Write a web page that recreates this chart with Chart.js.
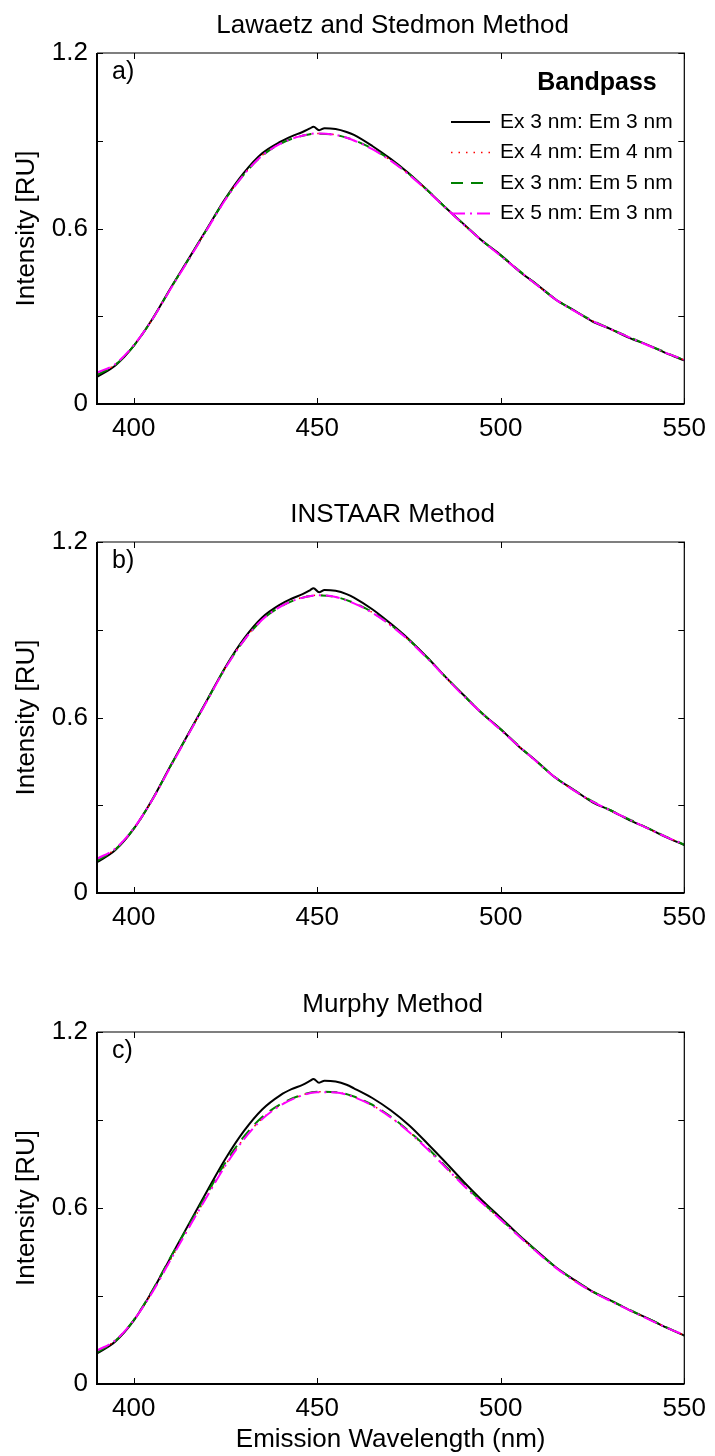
<!DOCTYPE html>
<html>
<head>
<meta charset="utf-8">
<script src="https://cdn.jsdelivr.net/npm/chart.js@4.4.0/dist/chart.umd.min.js"></script>
<style>
  body { margin: 0; background: #fff; width: 715px; height: 1456px; overflow: hidden; position: relative; }
  canvas { position: absolute; left: 0; }
</style>
</head>
<body>
<canvas id="panelA" width="715" height="470" style="top:0px"></canvas>
<canvas id="panelB" width="715" height="470" style="top:490px"></canvas>
<canvas id="panelC" width="715" height="476" style="top:980px"></canvas>
<script>
// wavelengths (nm)
const wl = [390, 395, 400, 405, 410, 415, 420, 425, 430, 435, 440, 445, 450, 455, 460, 465, 470,
  475, 480, 485, 490, 495, 500, 505, 510, 515, 520, 525, 530, 535, 540, 545, 550];
const wlFine = [390, 395, 400, 405, 410, 415, 420, 425, 430, 435, 440, 443, 446, 448, 449, 450.5, 452,
  455, 458, 460, 465, 470, 475, 480, 485, 490, 495, 500, 505, 510, 515, 520, 525, 530, 535, 540, 545, 550];

const xTicks = [400, 450, 500, 550];
const yTicks = [0, 0.3, 0.6, 0.9, 1.2];
const yTickLabels = [0, 0.6, 1.2];

const seriesNames = ['Ex 3 nm: Em 3 nm', 'Ex 4 nm: Em 4 nm', 'Ex 3 nm: Em 5 nm', 'Ex 5 nm: Em 3 nm'];
const panelTitles = ['Lawaetz and Stedmon Method', 'INSTAAR Method', 'Murphy Method'];
const panelLetters = ['a)', 'b)', 'c)'];

// a) Lawaetz and Stedmon
const a_ex3em3 = [0.093, 0.132, 0.199, 0.289, 0.395, 0.497, 0.600, 0.703, 0.790, 0.857, 0.897, 0.915, 0.930, 0.942, 0.948, 0.936, 0.943,
  0.940, 0.930, 0.920, 0.882, 0.838, 0.788, 0.731, 0.671, 0.614, 0.557, 0.509, 0.454, 0.407, 0.357, 0.320, 0.282, 0.256, 0.226, 0.202, 0.174, 0.149];
const a_ex4em4 = [0.103, 0.135, 0.200, 0.288, 0.393, 0.495, 0.598, 0.700, 0.785, 0.850, 0.891, 0.915, 0.925, 0.920, 0.901, 0.872, 0.833,
  0.785, 0.730, 0.670, 0.612, 0.558, 0.507, 0.455, 0.405, 0.358, 0.318, 0.284, 0.255, 0.228, 0.201, 0.175, 0.150];
const a_ex3em5 = [0.099, 0.134, 0.199, 0.288, 0.394, 0.496, 0.599, 0.701, 0.784, 0.849, 0.890, 0.914, 0.924, 0.920, 0.902, 0.873, 0.834,
  0.786, 0.731, 0.671, 0.613, 0.558, 0.508, 0.456, 0.406, 0.358, 0.319, 0.285, 0.256, 0.229, 0.202, 0.176, 0.150];
const a_ex5em3 = [0.107, 0.137, 0.201, 0.288, 0.392, 0.494, 0.597, 0.699, 0.784, 0.849, 0.890, 0.914, 0.925, 0.920, 0.901, 0.871, 0.832,
  0.784, 0.729, 0.670, 0.612, 0.557, 0.506, 0.455, 0.405, 0.357, 0.318, 0.284, 0.255, 0.228, 0.201, 0.175, 0.151];

// b) INSTAAR
const b_ex3em3 = [0.105, 0.147, 0.219, 0.318, 0.434, 0.547, 0.660, 0.773, 0.869, 0.942, 0.987, 1.006, 1.022, 1.035, 1.042, 1.028, 1.036,
  1.033, 1.022, 1.010, 0.970, 0.921, 0.867, 0.805, 0.738, 0.675, 0.613, 0.560, 0.500, 0.448, 0.393, 0.352, 0.310, 0.282, 0.249, 0.222, 0.191, 0.164];
const b_ex4em4 = [0.114, 0.150, 0.220, 0.317, 0.432, 0.545, 0.658, 0.770, 0.864, 0.935, 0.980, 1.007, 1.018, 1.012, 0.991, 0.959, 0.916,
  0.864, 0.803, 0.737, 0.673, 0.614, 0.558, 0.501, 0.446, 0.394, 0.350, 0.312, 0.281, 0.251, 0.221, 0.193, 0.165];
const b_ex3em5 = [0.110, 0.149, 0.220, 0.318, 0.433, 0.546, 0.659, 0.771, 0.863, 0.934, 0.979, 1.006, 1.017, 1.012, 0.992, 0.960, 0.917,
  0.865, 0.804, 0.738, 0.674, 0.614, 0.559, 0.502, 0.447, 0.394, 0.351, 0.313, 0.282, 0.252, 0.222, 0.193, 0.165];
const b_ex5em3 = [0.117, 0.152, 0.221, 0.317, 0.431, 0.544, 0.657, 0.769, 0.863, 0.934, 0.979, 1.006, 1.018, 1.012, 0.990, 0.958, 0.915,
  0.863, 0.802, 0.737, 0.672, 0.613, 0.557, 0.501, 0.446, 0.393, 0.350, 0.312, 0.281, 0.251, 0.221, 0.192, 0.166];

// c) Murphy
const c_ex3em3 = [0.104, 0.145, 0.216, 0.315, 0.430, 0.545, 0.658, 0.768, 0.862, 0.936, 0.985, 1.005, 1.020, 1.033, 1.040, 1.027, 1.034,
  1.031, 1.020, 1.008, 0.975, 0.933, 0.882, 0.820, 0.755, 0.688, 0.625, 0.567, 0.507, 0.452, 0.398, 0.355, 0.315, 0.284, 0.252, 0.224, 0.193, 0.165];
const c_ex4em4 = [0.112, 0.148, 0.217, 0.312, 0.423, 0.533, 0.641, 0.747, 0.836, 0.905, 0.951, 0.981, 0.996, 0.995, 0.979, 0.950, 0.910,
  0.860, 0.802, 0.739, 0.676, 0.617, 0.561, 0.504, 0.449, 0.397, 0.353, 0.315, 0.283, 0.253, 0.223, 0.194, 0.166];
const c_ex3em5 = [0.108, 0.147, 0.218, 0.317, 0.431, 0.541, 0.649, 0.755, 0.843, 0.910, 0.954, 0.982, 0.996, 0.995, 0.980, 0.952, 0.912,
  0.862, 0.805, 0.742, 0.679, 0.619, 0.562, 0.505, 0.450, 0.398, 0.354, 0.316, 0.284, 0.254, 0.224, 0.194, 0.166];
const c_ex5em3 = [0.114, 0.149, 0.217, 0.311, 0.422, 0.532, 0.640, 0.745, 0.834, 0.903, 0.950, 0.980, 0.995, 0.994, 0.978, 0.949, 0.909,
  0.859, 0.801, 0.738, 0.675, 0.616, 0.560, 0.503, 0.448, 0.396, 0.352, 0.314, 0.282, 0.252, 0.222, 0.193, 0.167];

const FONT = '"Liberation Sans", Arial, Helvetica, sans-serif';

// line styles for the 4 bandpass settings
const styles = [
  { color: '#000000', dash: [], width: 2 },
  { color: '#ff0000', dash: [1.5, 6], width: 1.5 },
  { color: '#008000', dash: [12, 8], width: 2 },
  { color: '#ff00ff', dash: [14, 5, 2, 5], width: 2 }
];

function pts(xs, ys) {
  return xs.map((x, i) => ({ x: x, y: ys[i] }));
}

const framePlugin = {
  id: 'frame',
  afterDatasetsDraw(chart, args, opts) {
    const ctx = chart.ctx;
    const a = chart.chartArea;
    const xs = chart.scales.x, ys = chart.scales.y;
    ctx.save();
    ctx.strokeStyle = '#000';
    // box
    ctx.lineWidth = 1.2;
    ctx.beginPath();
    ctx.moveTo(a.left, a.top); ctx.lineTo(a.right, a.top); ctx.lineTo(a.right, a.bottom);
    ctx.stroke();
    ctx.lineWidth = 2;
    ctx.beginPath();
    ctx.moveTo(a.left, a.top); ctx.lineTo(a.left, a.bottom); ctx.lineTo(a.right, a.bottom);
    ctx.stroke();
    // inward ticks
    ctx.lineWidth = 1;
    ctx.beginPath();
    xTicks.forEach(v => {
      const p = Math.round(xs.getPixelForValue(v)) + 0.5;
      ctx.moveTo(p, a.bottom); ctx.lineTo(p, a.bottom - 6);
      ctx.moveTo(p, a.top); ctx.lineTo(p, a.top + 6);
    });
    yTicks.forEach(v => {
      const p = Math.round(ys.getPixelForValue(v)) + 0.5;
      ctx.moveTo(a.left, p); ctx.lineTo(a.left + 6, p);
      ctx.moveTo(a.right, p); ctx.lineTo(a.right - 6, p);
    });
    ctx.stroke();

    ctx.fillStyle = '#000';
    ctx.textAlign = 'center';
    ctx.textBaseline = 'middle';
    ctx.font = '26px ' + FONT;
    ctx.fillText(opts.title, (a.left + a.right) / 2 + 2, a.top - 27);
    ctx.textAlign = 'left';
    ctx.font = '25px ' + FONT;
    ctx.fillText(opts.letter, a.left + 15, a.top + 19);
    // y label
    ctx.font = '26px ' + FONT;
    ctx.save();
    ctx.translate(27, (a.top + a.bottom) / 2);
    ctx.rotate(-Math.PI / 2);
    ctx.textAlign = 'center';
    ctx.fillText('Intensity [RU]', 0, 0);
    ctx.restore();
    if (opts.xlabel) {
      ctx.textAlign = 'center';
      ctx.fillText('Emission Wavelength (nm)', (a.left + a.right) / 2, a.bottom + 56);
    }
    if (opts.legend) {
      ctx.font = 'bold 25px ' + FONT;
      ctx.textAlign = 'center';
      ctx.fillText('Bandpass', 597, 83);
      ctx.font = '21px ' + FONT;
      ctx.textAlign = 'left';
      seriesNames.forEach((name, i) => {
        const y = 122 + i * 30.5;
        const s = styles[i];
        ctx.strokeStyle = s.color;
        ctx.lineWidth = s.width;
        ctx.setLineDash(s.dash);
        ctx.beginPath();
        ctx.moveTo(451, y); ctx.lineTo(490, y);
        ctx.stroke();
        ctx.setLineDash([]);
        ctx.fillText(name, 500, y);
      });
    }
    ctx.restore();
  }
};

function makePanel(id, idx, xsList, ysList, pad, extra) {
  const datasets = ysList.map((ys, i) => ({
    label: seriesNames[i],
    data: pts(xsList[i], ys),
    borderColor: styles[i].color,
    borderWidth: styles[i].width,
    borderDash: styles[i].dash,
    pointRadius: 0,
    fill: false,
    cubicInterpolationMode: 'monotone',
    order: 4 - i
  }));
  return new Chart(document.getElementById(id), {
    type: 'line',
    data: { datasets: datasets },
    options: {
      responsive: false,
      animation: false,
      layout: { padding: pad },
      plugins: {
        legend: { display: false },
        tooltip: { enabled: false },
        frame: Object.assign({ title: panelTitles[idx], letter: panelLetters[idx] }, extra)
      },
      scales: {
        x: {
          type: 'linear', min: 390, max: 550,
          grid: { display: false, drawTicks: false },
          border: { display: false },
          afterBuildTicks: s => { s.ticks = xTicks.map(v => ({ value: v })); },
          afterFit: s => { s.height = 40; },
          ticks: { font: { family: FONT, size: 26 }, color: '#000', padding: 9, maxRotation: 0 }
        },
        y: {
          type: 'linear', min: 0, max: 1.2,
          grid: { display: false, drawTicks: false },
          border: { display: false },
          afterBuildTicks: s => { s.ticks = yTicks.map(v => ({ value: v })); },
          afterFit: s => { s.width = 97; },
          ticks: {
            font: { family: FONT, size: 26 }, color: '#000', padding: 9,
            callback: v => yTickLabels.some(t => Math.abs(t - v) < 1e-6) ? String(Math.round(v * 10) / 10) : ''
          }
        }
      }
    },
    plugins: [framePlugin]
  });
}

const lists = [wlFine, wl, wl, wl];
makePanel('panelA', 0, lists, [a_ex3em3, a_ex4em4, a_ex3em5, a_ex5em3],
  { top: 53, right: 26, left: 0, bottom: 26 }, { legend: true });
makePanel('panelB', 1, lists, [b_ex3em3, b_ex4em4, b_ex3em5, b_ex5em3],
  { top: 52, right: 26, left: 0, bottom: 27 }, {});
makePanel('panelC', 2, lists, [c_ex3em3, c_ex4em4, c_ex3em5, c_ex5em3],
  { top: 52, right: 26, left: 0, bottom: 32 }, { xlabel: true });
</script>
</body>
</html>
